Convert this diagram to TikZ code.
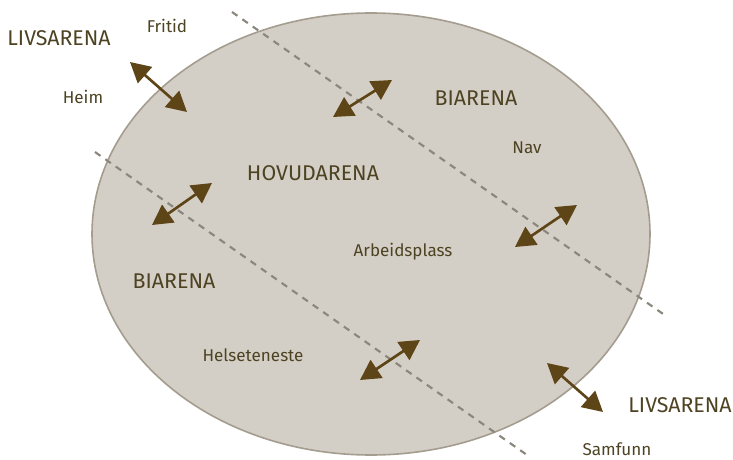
\documentclass[tikz,border=0pt]{standalone}
\usepackage{fontspec}
\setmainfont{Fira Sans}
\usetikzlibrary{arrows.meta}
\definecolor{Ink}{HTML}{4D4222}
\definecolor{Brown}{HTML}{5E4518}
\definecolor{Stone}{HTML}{D4CFC6}
\definecolor{Rim}{HTML}{A49D8F}
\definecolor{Dash}{HTML}{8C877D}
\tikzset{
  arena/.style={font=\fontsize{16}{18}\selectfont,text=Ink,inner sep=0pt},
  lab/.style={font=\fontsize{12.8}{14}\selectfont,text=Ink,inner sep=0pt},
  link/.style={{Triangle[length=15pt,width=16pt]}-{Triangle[length=15pt,width=16pt]},line width=2pt,draw=Brown},
  split/.style={draw=Dash,line width=1.6pt,dash pattern=on 5pt off 4.5pt}
}
\begin{document}
\begin{tikzpicture}[x=0.75pt,y=-0.75pt]
    \useasboundingbox (0,0) rectangle (733,460);
    \filldraw[fill=Stone,draw=Rim,line width=1.2pt] (371,234) ellipse[x radius=279,y radius=221];
    % dividing lines
    \coordinate (u1) at (232,12); \coordinate (u2) at (666,316);
    \coordinate (l1) at (95,152); \coordinate (l2) at (527,455);
    \draw[split] (u1)--(u2); \draw[split] (l1)--(l2);
    % arrows
    \coordinate (h1) at (130,62); \coordinate (h2) at (187,112);
    \coordinate (b1) at (333,117); \coordinate (b2) at (392,80);
    \coordinate (c1) at (152,225); \coordinate (c2) at (212,183);
    \coordinate (d1) at (515,247); \coordinate (d2) at (577,205);
    \coordinate (e1) at (360,380); \coordinate (e2) at (420,340);
    \coordinate (f1) at (547,363); \coordinate (f2) at (603,412);
    \draw[link] (h1)--(h2); \draw[link] (b1)--(b2); \draw[link] (c1)--(c2);
    \draw[link] (d1)--(d2); \draw[link] (e1)--(e2); \draw[link] (f1)--(f2);
    % labels
    \node[arena] (liv1) at (59,38) {LIVSARENA}; \node[lab] (fri) at (167,26) {Fritid};
    \node[lab] (heim) at (83,97) {Heim};
    \node[arena] (bi1) at (476,98) {BIARENA}; \node[lab] (nav) at (527,148) {Nav};
    \node[arena] (hov) at (313,173) {HOVUDARENA}; \node[lab] (arb) at (403,252) {Arbeidsplass};
    \node[arena] (bi2) at (174,281) {BIARENA}; \node[lab] (hel) at (253,355) {Helseteneste};
    \node[arena] (liv2) at (680,405) {LIVSARENA}; \node[lab] (sam) at (617,449) {Samfunn};
  \end{tikzpicture}
\end{document}
